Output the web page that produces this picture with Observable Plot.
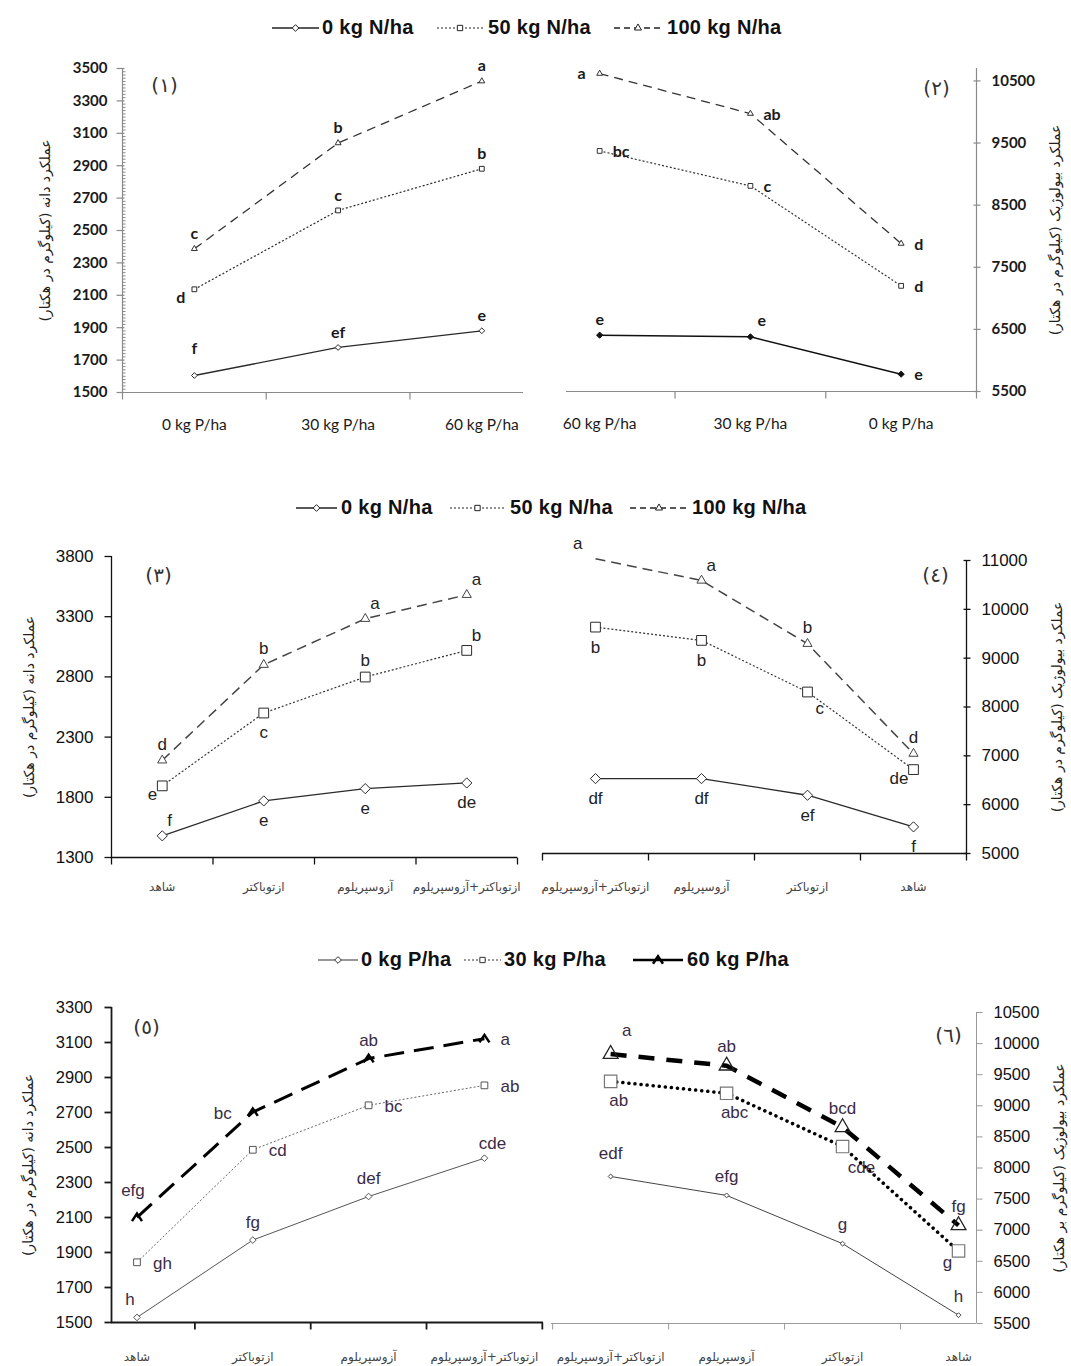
<!DOCTYPE html>
<html>
<head>
<meta charset="utf-8">
<script src="https://cdn.jsdelivr.net/npm/d3@7"></script>
<script src="https://cdn.jsdelivr.net/npm/@observablehq/plot@0.6"></script>
<style>
  body { margin: 0; background: #fff; }
  #chart { position: relative; width: 1071px; height: 1366px; background: #fff; overflow: hidden; }
  .panel { position: absolute; }
  .legend { position: absolute; display: flex; align-items: center; font: bold 20px "Liberation Sans", Arial, sans-serif; color: #111; white-space: nowrap; letter-spacing: 0.3px; }
  .legend svg { display: block; overflow: visible; }
</style>
</head>
<body>
<div id="chart"></div>
<script>
// ================= DATA =================
const RLM = "\u200F";
const nLevels = ["0 kg N/ha", "50 kg N/ha", "100 kg N/ha"];
const pLevels = ["0 kg P/ha", "30 kg P/ha", "60 kg P/ha"];
const pCatsAsc = ["0 kg P/ha", "30 kg P/ha", "60 kg P/ha"];
const pCatsDesc = ["60 kg P/ha", "30 kg P/ha", "0 kg P/ha"];
const bioCatsAsc = ["شاهد", "ازتوباکتر", "آزوسپریلوم", "ازتوباکتر+آزوسپریلوم"];
const bioCatsDesc = ["ازتوباکتر+آزوسپریلوم", "آزوسپریلوم", "ازتوباکتر", "شاهد"];
const grainTitle = "عملکرد دانه (کیلوگرم در هکتار)";
const bioTitle = "عملکرد بیولوژیک (کیلوگرم در هکتار)";
const bioTitleB = "عملکرد بیولوژیک (کیلوگرم بر هکتار)";
const panelTags = ["(١)", "(٢)", "(٣)", "(٤)", "(٥)", "(٦)"];

// Panel 1 — grain yield, P levels x N levels
const p1Ticks = [1500, 1700, 1900, 2100, 2300, 2500, 2700, 2900, 3100, 3300, 3500];
const p1N0 = [1605, 1778, 1881];
const p1N50 = [2137, 2624, 2881];
const p1N100 = [2387, 3040, 3422];
const p1N0Sig = ["f", "ef", "e"];
const p1N50Sig = ["d", "c", "b"];
const p1N100Sig = ["c", "b", "a"];

// Panel 2 — biological yield, P levels (reversed) x N levels
const p2Ticks = [5500, 6500, 7500, 8500, 9500, 10500];
const p2N0 = [6407, 6380, 5779];
const p2N50 = [9373, 8810, 7201];
const p2N100 = [10618, 9974, 7882];
const p2N0Sig = ["e", "e", "e"];
const p2N50Sig = ["bc", "c", "d"];
const p2N100Sig = ["a", "ab", "d"];

// Panel 3 — grain yield, biofertilizer x N levels
const p3Ticks = [1300, 1800, 2300, 2800, 3300, 3800];
const p3N0 = [1480, 1770, 1872, 1919];
const p3N50 = [1895, 2500, 2799, 3020];
const p3N100 = [2107, 2901, 3283, 3482];
const p3N0Sig = ["f", "e", "e", "de"];
const p3N50Sig = ["e", "c", "b", "b"];
const p3N100Sig = ["d", "b", "a", "a"];

// Panel 4 — biological yield, biofertilizer (reversed) x N levels
const p4Ticks = [5000, 6000, 7000, 8000, 9000, 10000, 11000];
const p4N0 = [6534, 6534, 6193, 5545];
const p4N50 = [9636, 9364, 8307, 6718];
const p4N100 = [11034, 10591, 9295, 7045];
const p4N0Sig = ["df", "df", "ef", "f"];
const p4N50Sig = ["b", "b", "c", "de"];
const p4N100Sig = ["a", "a", "b", "d"];

// Panel 5 — grain yield, biofertilizer x P levels
const p5Ticks = [1500, 1700, 1900, 2100, 2300, 2500, 2700, 2900, 3100, 3300];
const p5P0 = [1529, 1971, 2220, 2439];
const p5P30 = [1844, 2487, 2741, 2855];
const p5P60 = [2101, 2702, 3008, 3122];
const p5P0Sig = ["h", "fg", "def", "cde"];
const p5P30Sig = ["gh", "cd", "bc", "ab"];
const p5P60Sig = ["efg", "bc", "ab", "a"];

// Panel 6 — biological yield, biofertilizer (reversed) x P levels
const p6Ticks = [5500, 6000, 6500, 7000, 7500, 8000, 8500, 9000, 9500, 10000, 10500];
const p6P0 = [7864, 7559, 6783, 5634];
const p6P30 = [9393, 9201, 8345, 6666];
const p6P60 = [9832, 9644, 8655, 7078];
const p6P0Sig = ["edf", "efg", "g", "h"];
const p6P30Sig = ["ab", "abc", "cde", "g"];
const p6P60Sig = ["a", "ab", "bcd", "fg"];

// ================= LAYOUT / STYLE =================
// letter placement codes (relative to the point)
const p1Pos = [["T", "t", "t"], ["bl", "t", "t"], ["t", "t", "t"]];
const p2Pos = [["t", "tr", "r"], ["r", "r", "r"], ["l", "r", "r"]];
const p3Pos = [["tr", "b", "b", "b"], ["bl", "b", "t", "tr"], ["t", "t", "tr", "tr"]];
const p4Pos = [["b", "b", "b", "b"], ["b", "b", "br", "bl"], ["tl", "tr", "t", "t"]];
const p5Pos = [["tl", "t", "t", "tr"], ["r", "r", "r", "r"], ["T", "l", "t", "r"]];
const p6Pos = [["T", "t", "t", "t"], ["b", "b", "br", "bl"], ["tr", "t", "t", "t"]];

const off12 = {t: [0, -15, "middle"], T: [0, -27, "middle"], tr: [7, -16, "start"], r: [13, 1, "start"], l: [-14, 0, "end"], bl: [-9, 9, "end"]};
const off34 = {t: [0, -16, "middle"], b: [0, 20, "middle"], tr: [5, -15, "start"], tl: [-13, -15, "end"], br: [8, 17, "start"], bl: [-5, 9, "end"]};
const off5 = {t: [0, -18, "middle"], T: [-4, -27, "middle"], tl: [-7, -18, "middle"], tr: [8, -15, "middle"], r: [16, 1, "start"], l: [-21, 1, "end"]};
const off6 = {t: [0, -19, "middle"], T: [0, -23, "middle"], b: [8, 19, "middle"], br: [19, 21, "middle"], bl: [-11, 12, "middle"], tr: [16, -24, "middle"]};

const fontLato = "Lato, 'Open Sans', sans-serif";
const fontArial = "'Liberation Sans', Arial, sans-serif";
const fontFa = "'DejaVu Sans', sans-serif";

const caretSymbol = {draw(ctx, size) { const r = Math.sqrt(size / Math.PI); ctx.moveTo(-r, r * 0.75); ctx.lineTo(0, -r * 0.75); ctx.lineTo(r, r * 0.75); }};
const hSeg = (a, b) => ({draw(ctx) { ctx.moveTo(a, 0); ctx.lineTo(b, 0); }});
const vSeg = (a, b) => ({draw(ctx) { ctx.moveTo(0, a); ctx.lineTo(0, b); }});

const stN1 = [
  {stroke: "#2a2a2a", width: 1.3, dash: null, symbol: "diamond2", r: 2.6, fill: "#fff", mstroke: "#2a2a2a"},
  {stroke: "#2a2a2a", width: 1.2, dash: "2,2", symbol: "square", r: 2.7, fill: "#fff", mstroke: "#2a2a2a"},
  {stroke: "#333", width: 1.3, dash: "9,6", symbol: "triangle", r: 2.2, fill: "#fff", mstroke: "#333"}
];
const stN2 = [
  {stroke: "#111", width: 1.5, dash: null, symbol: "diamond2", r: 2.8, fill: "#111", mstroke: "#111"},
  {stroke: "#333", width: 1.2, dash: "2,2", symbol: "square", r: 2.7, fill: "#fff", mstroke: "#333"},
  {stroke: "#333", width: 1.3, dash: "9,6", symbol: "triangle", r: 2.2, fill: "#fff", mstroke: "#333"}
];
const stN34 = [
  {stroke: "#2a2a2a", width: 1.3, dash: null, symbol: "diamond2", r: 4.6, fill: "#fff", mstroke: "#2a2a2a"},
  {stroke: "#333", width: 1.2, dash: "2,2", symbol: "square", r: 5.5, fill: "#fff", mstroke: "#2a2a2a"},
  {stroke: "#444", width: 1.5, dash: "10,6", symbol: "triangle", r: 3.4, fill: "#fff", mstroke: "#444"}
];
const stP5 = [
  {stroke: "#555", width: 1, dash: null, symbol: "diamond2", r: 3, fill: "#fff", mstroke: "#555"},
  {stroke: "#666", width: 1, dash: "2,2", symbol: "square", r: 3.8, fill: "#fff", mstroke: "#555"},
  {stroke: "#000", width: 3, dash: "20,10", symbol: caretSymbol, r: 5, fill: "none", mstroke: "#000", mwidth: 2.5}
];
const stP6 = [
  {stroke: "#444", width: 1, dash: null, symbol: "diamond2", r: 2.2, fill: "#fff", mstroke: "#444"},
  {stroke: "#000", width: 3.5, dash: "0.1,6", cap: "round", symbol: "square", r: 7, fill: "#fff", mstroke: "#777", mwidth: 1.2},
  {stroke: "#000", width: 4.5, dash: "16,12", symbol: "triangle", r: 5.5, fill: "none", mstroke: "#222", mwidth: 1.3}
];

// ================= BUILDER =================
const chart = document.getElementById("chart");

function buildPanel(cfg) {
  const {box, frame, cats, xDomain, yDomain, yTicks, side, series, styles, offsets} = cfg;
  const rows = series.flatMap((s, k) => s.values.map((value, i) => ({k, i, value, sig: s.sig[i], pos: s.pos[i]})));
  const edge = side === "left" ? xDomain[0] : xDomain[1];
  const yMin = yDomain[0];
  const sign = side === "left" ? -1 : 1;
  const ax = cfg.axis;
  const seps = d3.range(-0.5, cats.length, 1).filter(v => v >= xDomain[0] - 1e-6 && v <= xDomain[1] + 1e-6);
  const marks = [];

  // axes
  marks.push(Plot.ruleY([yMin], {stroke: ax.color, strokeWidth: ax.width}));
  marks.push(Plot.ruleX([edge], {stroke: ax.color, strokeWidth: ax.width}));
  if (cfg.minorStep) {
    const minor = d3.range(yDomain[0], yDomain[1] + 1e-6, cfg.minorStep).filter(v => !yTicks.includes(v));
    marks.push(Plot.dot(minor, {x: () => edge, y: d => d, symbol: side === "left" ? hSeg(0, 3) : hSeg(-3, 0), stroke: ax.color, strokeWidth: 1, fill: "none"}));
  }
  marks.push(Plot.dot(yTicks, {x: () => edge, y: d => d, symbol: hSeg(ax.tick[0], ax.tick[1]), stroke: ax.color, strokeWidth: ax.width, fill: "none"}));
  marks.push(Plot.dot(seps, {x: d => d, y: () => yMin, symbol: vSeg(0, ax.xtick), stroke: ax.color, strokeWidth: ax.width, fill: "none"}));

  // y tick labels
  marks.push(Plot.text(yTicks, {x: () => edge, y: d => d, text: d => String(d), textAnchor: side === "left" ? "end" : "start", dx: sign * cfg.tickPad, fill: cfg.tickFont.color, fontSize: cfg.tickFont.size, fontFamily: cfg.tickFont.family, fontWeight: cfg.tickFont.weight}));

  // category labels
  marks.push(Plot.text(cats, {x: (d, i) => i, y: () => yMin, dy: cfg.catDy, text: d => d, textAnchor: "middle", fill: cfg.catFont.color, fontSize: cfg.catFont.size, fontFamily: cfg.catFont.family, fontWeight: cfg.catFont.weight}));

  // y title
  marks.push(Plot.text([RLM + cfg.title + RLM], {frameAnchor: side, dx: cfg.titleDx, rotate: -90, textAnchor: "middle", lineAnchor: "middle", text: d => d, fill: "#222", fontSize: 14, fontFamily: fontFa}));

  // panel tag
  marks.push(Plot.text([cfg.tag], {frameAnchor: side === "left" ? "top-left" : "top-right", dx: cfg.tagDx, dy: cfg.tagDy, textAnchor: "middle", lineAnchor: "middle", text: d => d, fill: "#333", fontSize: 20, fontFamily: fontFa}));

  // series lines
  styles.forEach((st, k) => {
    marks.push(Plot.line(rows.filter(r => r.k === k), {x: "i", y: "value", stroke: st.stroke, strokeWidth: st.width, strokeDasharray: st.dash || undefined, strokeLinecap: st.cap || "butt"}));
  });
  // series markers (Excel clips markers outside the plot area)
  styles.forEach((st, k) => {
    marks.push(Plot.dot(rows.filter(r => r.k === k && r.value <= yDomain[1]), {x: "i", y: "value", symbol: st.symbol, r: st.r, stroke: st.mstroke, fill: st.fill, strokeWidth: st.mwidth || 1}));
  });
  // significance letters
  Object.entries(offsets).forEach(([code, [dx, dy, anchor]]) => {
    const sub = rows.filter(r => r.pos === code);
    if (sub.length) marks.push(Plot.text(sub, {x: "i", y: "value", text: "sig", dx, dy, textAnchor: anchor, fill: cfg.letterFont.color, fontSize: cfg.letterFont.size, fontFamily: cfg.letterFont.family, fontWeight: cfg.letterFont.weight}));
  });

  const svg = Plot.plot({
    width: box.w, height: box.h,
    marginLeft: frame.x0 - box.x, marginRight: box.x + box.w - frame.x1,
    marginTop: frame.y0 - box.y, marginBottom: box.y + box.h - frame.y1,
    x: {type: "linear", domain: xDomain, axis: null},
    y: {type: "linear", domain: yDomain, axis: null},
    style: {background: "transparent", overflow: "visible", fontFamily: fontArial},
    marks
  });
  const div = document.createElement("div");
  div.className = "panel";
  div.style.left = box.x + "px";
  div.style.top = box.y + "px";
  div.appendChild(svg);
  chart.appendChild(div);
}

const symTypes = {diamond2: d3.symbolDiamond2, square: d3.symbolSquare, triangle: d3.symbolTriangle};
function legendRow(top, labels, entries) {
  entries.forEach((e, k) => {
    const item = document.createElement("div");
    item.className = "legend";
    item.style.left = e.left + "px";
    item.style.top = top + "px";
    const type = typeof e.symbol === "string" ? symTypes[e.symbol] : e.symbol;
    const path = d3.symbol(type, Math.PI * e.r * e.r)();
    item.innerHTML =
      `<svg width="${e.w}" height="20"><line x1="0" y1="10" x2="${e.w}" y2="10" stroke="${e.stroke}" stroke-width="${e.width}"${e.dash ? ` stroke-dasharray="${e.dash}"` : ""}/>` +
      `<path transform="translate(${e.w / 2},10)" d="${path}" fill="${e.fill}" stroke="${e.mstroke}" stroke-width="${e.mwidth || 1}"/></svg>` +
      `<span style="margin-left:${e.gap}px">${labels[k]}</span>`;
    chart.appendChild(item);
  });
}

// ================= PANELS =================
const font12Tick = {family: fontLato, size: 15, weight: "bold", color: "#1a1a1a"};
const font12Cat = {family: fontLato, size: 15.5, weight: "normal", color: "#1a1a1a"};
const font12Let = {family: fontLato, size: 16, weight: "bold", color: "#1a1a1a"};
const fontTick = {family: fontArial, size: 17, weight: "normal", color: "#111"};
const fontCat = {family: fontFa, size: 12, weight: "normal", color: "#444"};
const font34Let = {family: fontArial, size: 17, weight: "normal", color: "#222"};
const font56Let = {family: fontArial, size: 17, weight: "normal", color: "#3a2c45"};

buildPanel({
  box: {x: 0, y: 45, w: 540, h: 405}, frame: {x0: 122, x1: 523, y0: 68, y1: 392},
  cats: pCatsAsc, xDomain: [-0.5, 2.29], yDomain: [1500, 3500], yTicks: p1Ticks, minorStep: 20, side: "left",
  series: [{values: p1N0, sig: p1N0Sig, pos: p1Pos[0]}, {values: p1N50, sig: p1N50Sig, pos: p1Pos[1]}, {values: p1N100, sig: p1N100Sig, pos: p1Pos[2]}],
  styles: stN1, offsets: off12,
  axis: {color: "#8a8a8a", width: 1.2, tick: [-6, 2], xtick: 7},
  tickPad: 15, tickFont: font12Tick, catDy: 33, catFont: font12Cat, letterFont: font12Let,
  title: grainTitle, titleDx: -77, tag: panelTags[0], tagDx: 42, tagDy: 17
});
buildPanel({
  box: {x: 540, y: 45, w: 531, h: 405}, frame: {x0: 566, x1: 976, y0: 68, y1: 391},
  cats: pCatsDesc, xDomain: [-0.22, 2.5], yDomain: [5500, 10700], yTicks: p2Ticks, side: "right",
  series: [{values: p2N0, sig: p2N0Sig, pos: p2Pos[0]}, {values: p2N50, sig: p2N50Sig, pos: p2Pos[1]}, {values: p2N100, sig: p2N100Sig, pos: p2Pos[2]}],
  styles: stN2, offsets: off12,
  axis: {color: "#8a8a8a", width: 1.2, tick: [-3, 4], xtick: 7},
  tickPad: 15, tickFont: font12Tick, catDy: 33, catFont: font12Cat, letterFont: font12Let,
  title: bioTitle, titleDx: 79, tag: panelTags[1], tagDx: -40, tagDy: 20
});
buildPanel({
  box: {x: 0, y: 520, w: 535, h: 385}, frame: {x0: 111, x1: 517, y0: 556, y1: 857},
  cats: bioCatsAsc, xDomain: [-0.5, 3.5], yDomain: [1300, 3800], yTicks: p3Ticks, side: "left",
  series: [{values: p3N0, sig: p3N0Sig, pos: p3Pos[0]}, {values: p3N50, sig: p3N50Sig, pos: p3Pos[1]}, {values: p3N100, sig: p3N100Sig, pos: p3Pos[2]}],
  styles: stN34, offsets: off34,
  axis: {color: "#111", width: 1.3, tick: [-7, 0], xtick: 7},
  tickPad: 18, tickFont: fontTick, catDy: 30, catFont: fontCat, letterFont: font34Let,
  title: grainTitle, titleDx: -82, tag: panelTags[2], tagDx: 47, tagDy: 19
});
buildPanel({
  box: {x: 535, y: 520, w: 536, h: 385}, frame: {x0: 542, x1: 966, y0: 560, y1: 853},
  cats: bioCatsDesc, xDomain: [-0.5, 3.5], yDomain: [5000, 11000], yTicks: p4Ticks, side: "right",
  series: [{values: p4N0, sig: p4N0Sig, pos: p4Pos[0]}, {values: p4N50, sig: p4N50Sig, pos: p4Pos[1]}, {values: p4N100, sig: p4N100Sig, pos: p4Pos[2]}],
  styles: stN34, offsets: off34,
  axis: {color: "#111", width: 1.3, tick: [-3, 4], xtick: 7},
  tickPad: 15, tickFont: fontTick, catDy: 34, catFont: fontCat, letterFont: font34Let,
  title: bioTitle, titleDx: 91, tag: panelTags[3], tagDx: -31, tagDy: 15
});
buildPanel({
  box: {x: 0, y: 975, w: 547, h: 391}, frame: {x0: 111, x1: 543, y0: 1007, y1: 1322},
  cats: bioCatsAsc, xDomain: [-0.22, 3.51], yDomain: [1500, 3300], yTicks: p5Ticks, side: "left",
  series: [{values: p5P0, sig: p5P0Sig, pos: p5Pos[0]}, {values: p5P30, sig: p5P30Sig, pos: p5Pos[1]}, {values: p5P60, sig: p5P60Sig, pos: p5Pos[2]}],
  styles: stP5, offsets: off5,
  axis: {color: "#1a1a1a", width: 1.8, tick: [-7, 0], xtick: 7},
  tickPad: 19, tickFont: {...fontTick, size: 16.5}, catDy: 35, catFont: fontCat, letterFont: font56Let,
  title: grainTitle, titleDx: -83, tag: panelTags[4], tagDx: 35, tagDy: 20
});
buildPanel({
  box: {x: 547, y: 975, w: 524, h: 391}, frame: {x0: 551, x1: 976, y0: 1012, y1: 1323},
  cats: bioCatsDesc, xDomain: [-0.51, 3.155], yDomain: [5500, 10500], yTicks: p6Ticks, side: "right",
  series: [{values: p6P0, sig: p6P0Sig, pos: p6Pos[0]}, {values: p6P30, sig: p6P30Sig, pos: p6Pos[1]}, {values: p6P60, sig: p6P60Sig, pos: p6Pos[2]}],
  styles: stP6, offsets: off6,
  axis: {color: "#999", width: 1, tick: [0, 6], xtick: 6},
  tickPad: 17, tickFont: {...fontTick, size: 16.5}, catDy: 34, catFont: fontCat, letterFont: font56Let,
  title: bioTitleB, titleDx: 83, tag: panelTags[5], tagDx: -28, tagDy: 23
});

// ================= LEGENDS =================
const legN = [
  {left: 272, w: 47, gap: 3, stroke: "#222", width: 1.3, symbol: "diamond2", r: 3, fill: "#fff", mstroke: "#222"},
  {left: 437, w: 46, gap: 5, stroke: "#222", width: 1.2, dash: "2,2", symbol: "square", r: 3, fill: "#fff", mstroke: "#222"},
  {left: 614, w: 48, gap: 5, stroke: "#222", width: 1.3, dash: "6,4", symbol: "triangle", r: 2.6, fill: "#fff", mstroke: "#222"}
];
const legN2 = [
  {left: 296, w: 41, gap: 4, stroke: "#222", width: 1.3, symbol: "diamond2", r: 3, fill: "#fff", mstroke: "#222"},
  {left: 450, w: 55, gap: 5, stroke: "#222", width: 1.2, dash: "2,2", symbol: "square", r: 3, fill: "#fff", mstroke: "#222"},
  {left: 630, w: 58, gap: 4, stroke: "#222", width: 1.3, dash: "6,4", symbol: "triangle", r: 2.6, fill: "#fff", mstroke: "#222"}
];
const legP = [
  {left: 318, w: 40, gap: 3, stroke: "#333", width: 1.2, symbol: "diamond2", r: 3, fill: "#fff", mstroke: "#333"},
  {left: 464, w: 37, gap: 3, stroke: "#333", width: 1.2, dash: "2,2", symbol: "square", r: 3, fill: "#fff", mstroke: "#333"},
  {left: 633, w: 50, gap: 4, stroke: "#000", width: 2.5, symbol: caretSymbol, r: 5, fill: "none", mstroke: "#000", mwidth: 2.5}
];
legendRow(16, nLevels, legN);
legendRow(496, nLevels, legN2);
legendRow(948, pLevels, legP);
</script>
</body>
</html>
